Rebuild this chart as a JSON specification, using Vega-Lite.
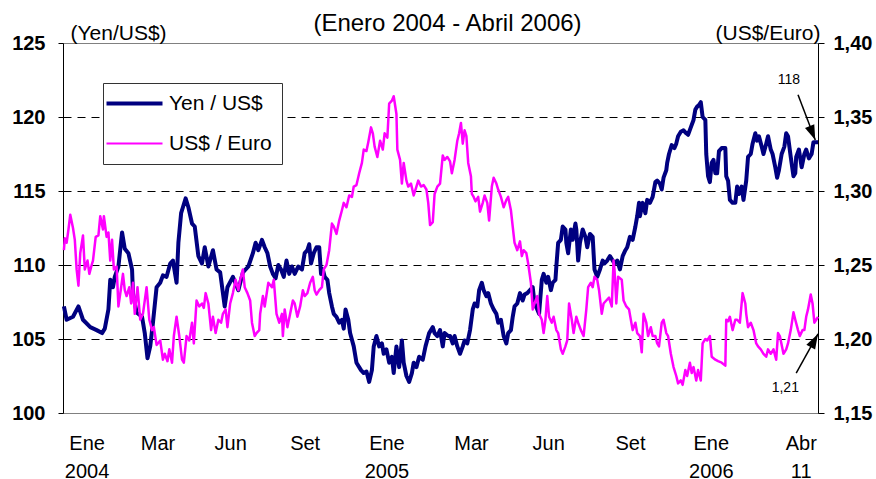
{
  "$schema": "https://vega.github.io/schema/vega-lite/v6.json",
  "width": 755,
  "height": 370,
  "autosize": {"type": "none"},
  "padding": {"left": 63, "top": 43, "right": 58, "bottom": 66},
  "background": "white",
  "config": {
    "font": "Liberation Sans",
    "view": {"stroke": "#808080", "strokeWidth": 1},
    "legend": {
      "symbolType": "M-1.7,0L3.9,0",
      "symbolSize": 400,
      "labelFontSize": 21,
      "labelColor": "black",
      "labelOffset": 35,
      "padding": 10,
      "rowPadding": 18,
      "fillColor": "white",
      "strokeColor": "#333333",
      "titleFontSize": 1
    }
  },
  "title": {
    "text": "(Enero 2004 - Abril 2006)",
    "fontSize": 24,
    "fontWeight": "normal",
    "color": "black",
    "anchor": "middle",
    "frame": "group",
    "dx": 7,
    "baseline": "alphabetic",
    "offset": -33
  },
  "data": {
    "values": [
      {"fecha":"2004-01-02","serie":"yen","valor":107.2},
      {"fecha":"2004-01-05","serie":"yen","valor":106.3},
      {"fecha":"2004-01-12","serie":"yen","valor":106.5},
      {"fecha":"2004-01-18","serie":"yen","valor":107.2},
      {"fecha":"2004-01-23","serie":"yen","valor":106.3},
      {"fecha":"2004-01-31","serie":"yen","valor":105.8},
      {"fecha":"2004-02-07","serie":"yen","valor":105.6},
      {"fecha":"2004-02-13","serie":"yen","valor":105.4},
      {"fecha":"2004-02-16","serie":"yen","valor":105.7},
      {"fecha":"2004-02-20","serie":"yen","valor":107.0},
      {"fecha":"2004-02-22","serie":"yen","valor":109.0},
      {"fecha":"2004-02-25","serie":"yen","valor":108.5},
      {"fecha":"2004-02-27","serie":"yen","valor":109.2},
      {"fecha":"2004-03-02","serie":"yen","valor":109.9},
      {"fecha":"2004-03-06","serie":"yen","valor":112.2},
      {"fecha":"2004-03-09","serie":"yen","valor":111.1},
      {"fecha":"2004-03-13","serie":"yen","valor":110.8},
      {"fecha":"2004-03-17","serie":"yen","valor":109.7},
      {"fecha":"2004-03-18","serie":"yen","valor":108.1},
      {"fecha":"2004-03-22","serie":"yen","valor":106.8},
      {"fecha":"2004-03-28","serie":"yen","valor":106.5},
      {"fecha":"2004-03-31","serie":"yen","valor":105.4},
      {"fecha":"2004-04-03","serie":"yen","valor":103.7},
      {"fecha":"2004-04-06","serie":"yen","valor":104.5},
      {"fecha":"2004-04-09","serie":"yen","valor":106.1},
      {"fecha":"2004-04-13","serie":"yen","valor":108.5},
      {"fecha":"2004-04-17","serie":"yen","valor":108.8},
      {"fecha":"2004-04-20","serie":"yen","valor":109.3},
      {"fecha":"2004-04-24","serie":"yen","valor":109.2},
      {"fecha":"2004-04-28","serie":"yen","valor":110.1},
      {"fecha":"2004-05-01","serie":"yen","valor":110.3},
      {"fecha":"2004-05-05","serie":"yen","valor":108.8},
      {"fecha":"2004-05-07","serie":"yen","valor":111.5},
      {"fecha":"2004-05-10","serie":"yen","valor":113.5},
      {"fecha":"2004-05-12","serie":"yen","valor":113.9},
      {"fecha":"2004-05-15","serie":"yen","valor":114.5},
      {"fecha":"2004-05-18","serie":"yen","valor":113.9},
      {"fecha":"2004-05-22","serie":"yen","valor":112.8},
      {"fecha":"2004-05-25","serie":"yen","valor":112.6},
      {"fecha":"2004-05-29","serie":"yen","valor":110.6},
      {"fecha":"2004-06-02","serie":"yen","valor":110.1},
      {"fecha":"2004-06-05","serie":"yen","valor":111.2},
      {"fecha":"2004-06-09","serie":"yen","valor":109.9},
      {"fecha":"2004-06-14","serie":"yen","valor":111.0},
      {"fecha":"2004-06-18","serie":"yen","valor":109.7},
      {"fecha":"2004-06-22","serie":"yen","valor":109.5},
      {"fecha":"2004-06-27","serie":"yen","valor":107.2},
      {"fecha":"2004-06-30","serie":"yen","valor":108.5},
      {"fecha":"2004-07-06","serie":"yen","valor":109.2},
      {"fecha":"2004-07-12","serie":"yen","valor":108.3},
      {"fecha":"2004-07-17","serie":"yen","valor":109.5},
      {"fecha":"2004-07-23","serie":"yen","valor":109.9},
      {"fecha":"2004-07-28","serie":"yen","valor":110.8},
      {"fecha":"2004-07-31","serie":"yen","valor":111.5},
      {"fecha":"2004-08-03","serie":"yen","valor":111.0},
      {"fecha":"2004-08-07","serie":"yen","valor":111.7},
      {"fecha":"2004-08-10","serie":"yen","valor":111.2},
      {"fecha":"2004-08-13","serie":"yen","valor":110.8},
      {"fecha":"2004-08-16","serie":"yen","valor":109.9},
      {"fecha":"2004-08-19","serie":"yen","valor":109.4},
      {"fecha":"2004-08-22","serie":"yen","valor":109.1},
      {"fecha":"2004-08-25","serie":"yen","valor":110.0},
      {"fecha":"2004-08-28","serie":"yen","valor":109.7},
      {"fecha":"2004-08-31","serie":"yen","valor":109.2},
      {"fecha":"2004-09-03","serie":"yen","valor":110.3},
      {"fecha":"2004-09-06","serie":"yen","valor":109.4},
      {"fecha":"2004-09-09","serie":"yen","valor":109.9},
      {"fecha":"2004-09-12","serie":"yen","valor":109.4},
      {"fecha":"2004-09-16","serie":"yen","valor":109.9},
      {"fecha":"2004-09-20","serie":"yen","valor":109.7},
      {"fecha":"2004-09-23","serie":"yen","valor":110.8},
      {"fecha":"2004-09-26","serie":"yen","valor":111.0},
      {"fecha":"2004-09-28","serie":"yen","valor":111.4},
      {"fecha":"2004-09-30","serie":"yen","valor":110.1},
      {"fecha":"2004-10-03","serie":"yen","valor":110.8},
      {"fecha":"2004-10-06","serie":"yen","valor":111.2},
      {"fecha":"2004-10-09","serie":"yen","valor":111.2},
      {"fecha":"2004-10-11","serie":"yen","valor":109.4},
      {"fecha":"2004-10-13","serie":"yen","valor":109.7},
      {"fecha":"2004-10-15","serie":"yen","valor":109.2},
      {"fecha":"2004-10-18","serie":"yen","valor":109.0},
      {"fecha":"2004-10-20","serie":"yen","valor":108.1},
      {"fecha":"2004-10-23","serie":"yen","valor":107.2},
      {"fecha":"2004-10-25","serie":"yen","valor":106.7},
      {"fecha":"2004-10-28","serie":"yen","valor":106.5},
      {"fecha":"2004-10-31","serie":"yen","valor":106.1},
      {"fecha":"2004-11-03","serie":"yen","valor":106.3},
      {"fecha":"2004-11-05","serie":"yen","valor":105.7},
      {"fecha":"2004-11-07","serie":"yen","valor":107.0},
      {"fecha":"2004-11-10","serie":"yen","valor":106.3},
      {"fecha":"2004-11-12","serie":"yen","valor":105.4},
      {"fecha":"2004-11-16","serie":"yen","valor":104.5},
      {"fecha":"2004-11-19","serie":"yen","valor":103.4},
      {"fecha":"2004-11-24","serie":"yen","valor":102.9},
      {"fecha":"2004-11-27","serie":"yen","valor":102.7},
      {"fecha":"2004-11-30","serie":"yen","valor":102.8},
      {"fecha":"2004-12-03","serie":"yen","valor":102.1},
      {"fecha":"2004-12-06","serie":"yen","valor":102.9},
      {"fecha":"2004-12-08","serie":"yen","valor":104.5},
      {"fecha":"2004-12-11","serie":"yen","valor":105.2},
      {"fecha":"2004-12-14","serie":"yen","valor":104.5},
      {"fecha":"2004-12-17","serie":"yen","valor":104.7},
      {"fecha":"2004-12-19","serie":"yen","valor":104.0},
      {"fecha":"2004-12-22","serie":"yen","valor":104.3},
      {"fecha":"2004-12-25","serie":"yen","valor":103.4},
      {"fecha":"2004-12-28","serie":"yen","valor":103.8},
      {"fecha":"2004-12-30","serie":"yen","valor":102.7},
      {"fecha":"2005-01-02","serie":"yen","valor":104.5},
      {"fecha":"2005-01-05","serie":"yen","valor":103.1},
      {"fecha":"2005-01-08","serie":"yen","valor":104.9},
      {"fecha":"2005-01-10","serie":"yen","valor":103.4},
      {"fecha":"2005-01-13","serie":"yen","valor":102.5},
      {"fecha":"2005-01-16","serie":"yen","valor":102.1},
      {"fecha":"2005-01-19","serie":"yen","valor":102.7},
      {"fecha":"2005-01-21","serie":"yen","valor":103.4},
      {"fecha":"2005-01-24","serie":"yen","valor":103.1},
      {"fecha":"2005-01-27","serie":"yen","valor":103.8},
      {"fecha":"2005-01-31","serie":"yen","valor":103.6},
      {"fecha":"2005-02-03","serie":"yen","valor":104.5},
      {"fecha":"2005-02-07","serie":"yen","valor":105.4},
      {"fecha":"2005-02-11","serie":"yen","valor":105.8},
      {"fecha":"2005-02-13","serie":"yen","valor":105.4},
      {"fecha":"2005-02-16","serie":"yen","valor":105.2},
      {"fecha":"2005-02-19","serie":"yen","valor":105.6},
      {"fecha":"2005-02-22","serie":"yen","valor":104.5},
      {"fecha":"2005-02-24","serie":"yen","valor":105.4},
      {"fecha":"2005-02-28","serie":"yen","valor":105.2},
      {"fecha":"2005-03-02","serie":"yen","valor":105.2},
      {"fecha":"2005-03-05","serie":"yen","valor":104.7},
      {"fecha":"2005-03-07","serie":"yen","valor":105.2},
      {"fecha":"2005-03-10","serie":"yen","valor":104.5},
      {"fecha":"2005-03-13","serie":"yen","valor":104.0},
      {"fecha":"2005-03-16","serie":"yen","valor":104.5},
      {"fecha":"2005-03-18","serie":"yen","valor":104.9},
      {"fecha":"2005-03-21","serie":"yen","valor":104.7},
      {"fecha":"2005-03-24","serie":"yen","valor":105.6},
      {"fecha":"2005-03-27","serie":"yen","valor":107.0},
      {"fecha":"2005-03-29","serie":"yen","valor":107.4},
      {"fecha":"2005-04-01","serie":"yen","valor":107.2},
      {"fecha":"2005-04-03","serie":"yen","valor":108.3},
      {"fecha":"2005-04-06","serie":"yen","valor":108.8},
      {"fecha":"2005-04-08","serie":"yen","valor":108.3},
      {"fecha":"2005-04-11","serie":"yen","valor":107.9},
      {"fecha":"2005-04-13","serie":"yen","valor":108.1},
      {"fecha":"2005-04-16","serie":"yen","valor":107.4},
      {"fecha":"2005-04-19","serie":"yen","valor":107.0},
      {"fecha":"2005-04-22","serie":"yen","valor":106.7},
      {"fecha":"2005-04-24","serie":"yen","valor":106.1},
      {"fecha":"2005-04-27","serie":"yen","valor":106.3},
      {"fecha":"2005-04-30","serie":"yen","valor":105.2},
      {"fecha":"2005-05-03","serie":"yen","valor":104.7},
      {"fecha":"2005-05-05","serie":"yen","valor":105.4},
      {"fecha":"2005-05-08","serie":"yen","valor":105.6},
      {"fecha":"2005-05-10","serie":"yen","valor":106.5},
      {"fecha":"2005-05-12","serie":"yen","valor":107.2},
      {"fecha":"2005-05-15","serie":"yen","valor":107.4},
      {"fecha":"2005-05-18","serie":"yen","valor":108.1},
      {"fecha":"2005-05-21","serie":"yen","valor":107.6},
      {"fecha":"2005-05-23","serie":"yen","valor":108.0},
      {"fecha":"2005-05-26","serie":"yen","valor":108.1},
      {"fecha":"2005-05-29","serie":"yen","valor":108.3},
      {"fecha":"2005-06-01","serie":"yen","valor":108.5},
      {"fecha":"2005-06-03","serie":"yen","valor":107.4},
      {"fecha":"2005-06-06","serie":"yen","valor":107.0},
      {"fecha":"2005-06-08","serie":"yen","valor":106.7},
      {"fecha":"2005-06-11","serie":"yen","valor":109.0},
      {"fecha":"2005-06-13","serie":"yen","valor":109.4},
      {"fecha":"2005-06-16","serie":"yen","valor":108.8},
      {"fecha":"2005-06-18","serie":"yen","valor":109.2},
      {"fecha":"2005-06-21","serie":"yen","valor":108.3},
      {"fecha":"2005-06-23","serie":"yen","valor":108.8},
      {"fecha":"2005-06-26","serie":"yen","valor":109.0},
      {"fecha":"2005-06-27","serie":"yen","valor":109.9},
      {"fecha":"2005-06-29","serie":"yen","valor":111.5},
      {"fecha":"2005-07-02","serie":"yen","valor":111.7},
      {"fecha":"2005-07-04","serie":"yen","valor":112.6},
      {"fecha":"2005-07-07","serie":"yen","valor":112.4},
      {"fecha":"2005-07-08","serie":"yen","valor":111.5},
      {"fecha":"2005-07-10","serie":"yen","valor":110.8},
      {"fecha":"2005-07-13","serie":"yen","valor":112.4},
      {"fecha":"2005-07-15","serie":"yen","valor":111.7},
      {"fecha":"2005-07-18","serie":"yen","valor":112.8},
      {"fecha":"2005-07-19","serie":"yen","valor":112.4},
      {"fecha":"2005-07-21","serie":"yen","valor":110.3},
      {"fecha":"2005-07-23","serie":"yen","valor":111.5},
      {"fecha":"2005-07-26","serie":"yen","valor":112.4},
      {"fecha":"2005-07-29","serie":"yen","valor":111.9},
      {"fecha":"2005-07-31","serie":"yen","valor":111.2},
      {"fecha":"2005-08-03","serie":"yen","valor":112.1},
      {"fecha":"2005-08-06","serie":"yen","valor":111.9},
      {"fecha":"2005-08-08","serie":"yen","valor":109.7},
      {"fecha":"2005-08-11","serie":"yen","valor":109.2},
      {"fecha":"2005-08-14","serie":"yen","valor":109.7},
      {"fecha":"2005-08-17","serie":"yen","valor":110.3},
      {"fecha":"2005-08-19","serie":"yen","valor":110.1},
      {"fecha":"2005-08-22","serie":"yen","valor":110.3},
      {"fecha":"2005-08-25","serie":"yen","valor":110.6},
      {"fecha":"2005-08-28","serie":"yen","valor":110.3},
      {"fecha":"2005-08-30","serie":"yen","valor":110.1},
      {"fecha":"2005-09-02","serie":"yen","valor":110.3},
      {"fecha":"2005-09-05","serie":"yen","valor":109.7},
      {"fecha":"2005-09-08","serie":"yen","valor":110.6},
      {"fecha":"2005-09-11","serie":"yen","valor":111.0},
      {"fecha":"2005-09-13","serie":"yen","valor":111.2},
      {"fecha":"2005-09-16","serie":"yen","valor":111.9},
      {"fecha":"2005-09-19","serie":"yen","valor":111.7},
      {"fecha":"2005-09-22","serie":"yen","valor":112.6},
      {"fecha":"2005-09-24","serie":"yen","valor":113.3},
      {"fecha":"2005-09-26","serie":"yen","valor":114.2},
      {"fecha":"2005-09-27","serie":"yen","valor":113.3},
      {"fecha":"2005-09-30","serie":"yen","valor":114.2},
      {"fecha":"2005-10-03","serie":"yen","valor":113.5},
      {"fecha":"2005-10-05","serie":"yen","valor":114.4},
      {"fecha":"2005-10-08","serie":"yen","valor":114.2},
      {"fecha":"2005-10-11","serie":"yen","valor":114.6},
      {"fecha":"2005-10-14","serie":"yen","valor":115.6},
      {"fecha":"2005-10-16","serie":"yen","valor":115.7},
      {"fecha":"2005-10-19","serie":"yen","valor":115.5},
      {"fecha":"2005-10-21","serie":"yen","valor":115.1},
      {"fecha":"2005-10-23","serie":"yen","valor":115.9},
      {"fecha":"2005-10-26","serie":"yen","valor":116.4},
      {"fecha":"2005-10-27","serie":"yen","valor":116.9},
      {"fecha":"2005-10-29","serie":"yen","valor":117.5},
      {"fecha":"2005-11-01","serie":"yen","valor":118.1},
      {"fecha":"2005-11-04","serie":"yen","valor":117.9},
      {"fecha":"2005-11-06","serie":"yen","valor":118.2},
      {"fecha":"2005-11-08","serie":"yen","valor":118.7},
      {"fecha":"2005-11-11","serie":"yen","valor":119.0},
      {"fecha":"2005-11-14","serie":"yen","valor":119.1},
      {"fecha":"2005-11-17","serie":"yen","valor":118.9},
      {"fecha":"2005-11-19","serie":"yen","valor":118.8},
      {"fecha":"2005-11-22","serie":"yen","valor":119.3},
      {"fecha":"2005-11-25","serie":"yen","valor":119.8},
      {"fecha":"2005-11-27","serie":"yen","valor":120.5},
      {"fecha":"2005-11-29","serie":"yen","valor":120.7},
      {"fecha":"2005-12-01","serie":"yen","valor":120.8},
      {"fecha":"2005-12-03","serie":"yen","valor":121.0},
      {"fecha":"2005-12-05","serie":"yen","valor":120.0},
      {"fecha":"2005-12-08","serie":"yen","valor":119.8},
      {"fecha":"2005-12-09","serie":"yen","valor":117.5},
      {"fecha":"2005-12-11","serie":"yen","valor":116.0},
      {"fecha":"2005-12-13","serie":"yen","valor":115.6},
      {"fecha":"2005-12-15","serie":"yen","valor":116.9},
      {"fecha":"2005-12-17","serie":"yen","valor":117.1},
      {"fecha":"2005-12-19","serie":"yen","valor":116.2},
      {"fecha":"2005-12-21","serie":"yen","valor":116.2},
      {"fecha":"2005-12-23","serie":"yen","valor":117.7},
      {"fecha":"2005-12-26","serie":"yen","valor":117.9},
      {"fecha":"2005-12-30","serie":"yen","valor":117.9},
      {"fecha":"2005-12-31","serie":"yen","valor":116.0},
      {"fecha":"2006-01-02","serie":"yen","valor":115.7},
      {"fecha":"2006-01-04","serie":"yen","valor":114.4},
      {"fecha":"2006-01-07","serie":"yen","valor":114.2},
      {"fecha":"2006-01-10","serie":"yen","valor":114.2},
      {"fecha":"2006-01-12","serie":"yen","valor":115.3},
      {"fecha":"2006-01-14","serie":"yen","valor":114.8},
      {"fecha":"2006-01-17","serie":"yen","valor":115.3},
      {"fecha":"2006-01-19","serie":"yen","valor":114.4},
      {"fecha":"2006-01-22","serie":"yen","valor":115.7},
      {"fecha":"2006-01-24","serie":"yen","valor":117.3},
      {"fecha":"2006-01-27","serie":"yen","valor":117.5},
      {"fecha":"2006-01-29","serie":"yen","valor":118.2},
      {"fecha":"2006-02-01","serie":"yen","valor":118.9},
      {"fecha":"2006-02-03","serie":"yen","valor":118.4},
      {"fecha":"2006-02-05","serie":"yen","valor":118.7},
      {"fecha":"2006-02-08","serie":"yen","valor":118.0},
      {"fecha":"2006-02-10","serie":"yen","valor":117.5},
      {"fecha":"2006-02-13","serie":"yen","valor":118.2},
      {"fecha":"2006-02-15","serie":"yen","valor":118.7},
      {"fecha":"2006-02-18","serie":"yen","valor":117.8},
      {"fecha":"2006-02-20","serie":"yen","valor":117.5},
      {"fecha":"2006-02-23","serie":"yen","valor":116.6},
      {"fecha":"2006-02-25","serie":"yen","valor":115.9},
      {"fecha":"2006-02-27","serie":"yen","valor":116.4},
      {"fecha":"2006-03-02","serie":"yen","valor":117.5},
      {"fecha":"2006-03-05","serie":"yen","valor":118.0},
      {"fecha":"2006-03-07","serie":"yen","valor":118.9},
      {"fecha":"2006-03-09","serie":"yen","valor":118.7},
      {"fecha":"2006-03-12","serie":"yen","valor":117.3},
      {"fecha":"2006-03-15","serie":"yen","valor":116.0},
      {"fecha":"2006-03-17","serie":"yen","valor":116.2},
      {"fecha":"2006-03-18","serie":"yen","valor":117.3},
      {"fecha":"2006-03-21","serie":"yen","valor":117.8},
      {"fecha":"2006-03-24","serie":"yen","valor":116.6},
      {"fecha":"2006-03-27","serie":"yen","valor":117.5},
      {"fecha":"2006-03-29","serie":"yen","valor":117.8},
      {"fecha":"2006-04-01","serie":"yen","valor":117.2},
      {"fecha":"2006-04-04","serie":"yen","valor":117.5},
      {"fecha":"2006-04-06","serie":"yen","valor":118.3},
      {"fecha":"2006-04-09","serie":"yen","valor":118.3},
      {"fecha":"2006-04-11","serie":"yen","valor":118.3},
      {"fecha":"2004-01-02","serie":"eur","valor":1.260},
      {"fecha":"2004-01-03","serie":"eur","valor":1.268},
      {"fecha":"2004-01-05","serie":"eur","valor":1.265},
      {"fecha":"2004-01-07","serie":"eur","valor":1.274},
      {"fecha":"2004-01-09","serie":"eur","valor":1.284},
      {"fecha":"2004-01-12","serie":"eur","valor":1.275},
      {"fecha":"2004-01-14","serie":"eur","valor":1.267},
      {"fecha":"2004-01-16","serie":"eur","valor":1.247},
      {"fecha":"2004-01-18","serie":"eur","valor":1.236},
      {"fecha":"2004-01-20","serie":"eur","valor":1.258},
      {"fecha":"2004-01-23","serie":"eur","valor":1.270},
      {"fecha":"2004-01-25","serie":"eur","valor":1.247},
      {"fecha":"2004-01-28","serie":"eur","valor":1.253},
      {"fecha":"2004-01-30","serie":"eur","valor":1.244},
      {"fecha":"2004-02-02","serie":"eur","valor":1.251},
      {"fecha":"2004-02-03","serie":"eur","valor":1.253},
      {"fecha":"2004-02-06","serie":"eur","valor":1.269},
      {"fecha":"2004-02-09","serie":"eur","valor":1.270},
      {"fecha":"2004-02-11","serie":"eur","valor":1.283},
      {"fecha":"2004-02-14","serie":"eur","valor":1.274},
      {"fecha":"2004-02-15","serie":"eur","valor":1.283},
      {"fecha":"2004-02-18","serie":"eur","valor":1.269},
      {"fecha":"2004-02-20","serie":"eur","valor":1.272},
      {"fecha":"2004-02-22","serie":"eur","valor":1.253},
      {"fecha":"2004-02-24","serie":"eur","valor":1.267},
      {"fecha":"2004-02-26","serie":"eur","valor":1.247},
      {"fecha":"2004-02-29","serie":"eur","valor":1.249},
      {"fecha":"2004-03-02","serie":"eur","valor":1.222},
      {"fecha":"2004-03-05","serie":"eur","valor":1.235},
      {"fecha":"2004-03-07","serie":"eur","valor":1.244},
      {"fecha":"2004-03-09","serie":"eur","valor":1.233},
      {"fecha":"2004-03-11","serie":"eur","valor":1.229},
      {"fecha":"2004-03-14","serie":"eur","valor":1.235},
      {"fecha":"2004-03-16","serie":"eur","valor":1.224},
      {"fecha":"2004-03-18","serie":"eur","valor":1.238},
      {"fecha":"2004-03-20","serie":"eur","valor":1.217},
      {"fecha":"2004-03-23","serie":"eur","valor":1.235},
      {"fecha":"2004-03-26","serie":"eur","valor":1.213},
      {"fecha":"2004-03-29","serie":"eur","valor":1.217},
      {"fecha":"2004-04-02","serie":"eur","valor":1.235},
      {"fecha":"2004-04-05","serie":"eur","valor":1.213},
      {"fecha":"2004-04-08","serie":"eur","valor":1.206},
      {"fecha":"2004-04-10","serie":"eur","valor":1.208},
      {"fecha":"2004-04-13","serie":"eur","valor":1.196},
      {"fecha":"2004-04-17","serie":"eur","valor":1.199},
      {"fecha":"2004-04-20","serie":"eur","valor":1.186},
      {"fecha":"2004-04-22","serie":"eur","valor":1.190},
      {"fecha":"2004-04-25","serie":"eur","valor":1.185},
      {"fecha":"2004-04-27","serie":"eur","valor":1.193},
      {"fecha":"2004-04-30","serie":"eur","valor":1.184},
      {"fecha":"2004-05-02","serie":"eur","valor":1.202},
      {"fecha":"2004-05-05","serie":"eur","valor":1.215},
      {"fecha":"2004-05-08","serie":"eur","valor":1.202},
      {"fecha":"2004-05-11","serie":"eur","valor":1.186},
      {"fecha":"2004-05-13","serie":"eur","valor":1.184},
      {"fecha":"2004-05-16","serie":"eur","valor":1.202},
      {"fecha":"2004-05-19","serie":"eur","valor":1.199},
      {"fecha":"2004-05-22","serie":"eur","valor":1.211},
      {"fecha":"2004-05-24","serie":"eur","valor":1.197},
      {"fecha":"2004-05-27","serie":"eur","valor":1.226},
      {"fecha":"2004-05-30","serie":"eur","valor":1.222},
      {"fecha":"2004-06-02","serie":"eur","valor":1.224},
      {"fecha":"2004-06-04","serie":"eur","valor":1.221},
      {"fecha":"2004-06-06","serie":"eur","valor":1.231},
      {"fecha":"2004-06-09","serie":"eur","valor":1.224},
      {"fecha":"2004-06-12","serie":"eur","valor":1.206},
      {"fecha":"2004-06-14","serie":"eur","valor":1.215},
      {"fecha":"2004-06-17","serie":"eur","valor":1.204},
      {"fecha":"2004-06-20","serie":"eur","valor":1.213},
      {"fecha":"2004-06-23","serie":"eur","valor":1.211},
      {"fecha":"2004-06-25","serie":"eur","valor":1.217},
      {"fecha":"2004-06-28","serie":"eur","valor":1.220},
      {"fecha":"2004-06-30","serie":"eur","valor":1.208},
      {"fecha":"2004-07-03","serie":"eur","valor":1.224},
      {"fecha":"2004-07-06","serie":"eur","valor":1.231},
      {"fecha":"2004-07-09","serie":"eur","valor":1.240},
      {"fecha":"2004-07-12","serie":"eur","valor":1.233},
      {"fecha":"2004-07-14","serie":"eur","valor":1.240},
      {"fecha":"2004-07-17","serie":"eur","valor":1.247},
      {"fecha":"2004-07-19","serie":"eur","valor":1.235},
      {"fecha":"2004-07-22","serie":"eur","valor":1.231},
      {"fecha":"2004-07-25","serie":"eur","valor":1.226},
      {"fecha":"2004-07-27","serie":"eur","valor":1.211},
      {"fecha":"2004-07-30","serie":"eur","valor":1.202},
      {"fecha":"2004-08-01","serie":"eur","valor":1.204},
      {"fecha":"2004-08-04","serie":"eur","valor":1.206},
      {"fecha":"2004-08-05","serie":"eur","valor":1.217},
      {"fecha":"2004-08-08","serie":"eur","valor":1.229},
      {"fecha":"2004-08-10","serie":"eur","valor":1.222},
      {"fecha":"2004-08-14","serie":"eur","valor":1.238},
      {"fecha":"2004-08-18","serie":"eur","valor":1.235},
      {"fecha":"2004-08-20","serie":"eur","valor":1.240},
      {"fecha":"2004-08-23","serie":"eur","valor":1.217},
      {"fecha":"2004-08-26","serie":"eur","valor":1.211},
      {"fecha":"2004-08-29","serie":"eur","valor":1.217},
      {"fecha":"2004-08-30","serie":"eur","valor":1.202},
      {"fecha":"2004-09-01","serie":"eur","valor":1.220},
      {"fecha":"2004-09-04","serie":"eur","valor":1.208},
      {"fecha":"2004-09-07","serie":"eur","valor":1.217},
      {"fecha":"2004-09-10","serie":"eur","valor":1.226},
      {"fecha":"2004-09-12","serie":"eur","valor":1.224},
      {"fecha":"2004-09-15","serie":"eur","valor":1.215},
      {"fecha":"2004-09-18","serie":"eur","valor":1.222},
      {"fecha":"2004-09-21","serie":"eur","valor":1.233},
      {"fecha":"2004-09-23","serie":"eur","valor":1.229},
      {"fecha":"2004-09-26","serie":"eur","valor":1.231},
      {"fecha":"2004-09-29","serie":"eur","valor":1.238},
      {"fecha":"2004-10-02","serie":"eur","valor":1.242},
      {"fecha":"2004-10-04","serie":"eur","valor":1.233},
      {"fecha":"2004-10-06","serie":"eur","valor":1.230},
      {"fecha":"2004-10-09","serie":"eur","valor":1.233},
      {"fecha":"2004-10-12","serie":"eur","valor":1.235},
      {"fecha":"2004-10-14","serie":"eur","valor":1.247},
      {"fecha":"2004-10-17","serie":"eur","valor":1.250},
      {"fecha":"2004-10-20","serie":"eur","valor":1.260},
      {"fecha":"2004-10-23","serie":"eur","valor":1.278},
      {"fecha":"2004-10-25","serie":"eur","valor":1.276},
      {"fecha":"2004-10-28","serie":"eur","valor":1.271},
      {"fecha":"2004-10-31","serie":"eur","valor":1.280},
      {"fecha":"2004-11-03","serie":"eur","valor":1.287},
      {"fecha":"2004-11-05","serie":"eur","valor":1.292},
      {"fecha":"2004-11-08","serie":"eur","valor":1.289},
      {"fecha":"2004-11-11","serie":"eur","valor":1.297},
      {"fecha":"2004-11-14","serie":"eur","valor":1.296},
      {"fecha":"2004-11-16","serie":"eur","valor":1.303},
      {"fecha":"2004-11-19","serie":"eur","valor":1.304},
      {"fecha":"2004-11-22","serie":"eur","valor":1.312},
      {"fecha":"2004-11-25","serie":"eur","valor":1.319},
      {"fecha":"2004-11-27","serie":"eur","valor":1.328},
      {"fecha":"2004-11-30","serie":"eur","valor":1.327},
      {"fecha":"2004-12-02","serie":"eur","valor":1.333},
      {"fecha":"2004-12-05","serie":"eur","valor":1.343},
      {"fecha":"2004-12-07","serie":"eur","valor":1.339},
      {"fecha":"2004-12-09","serie":"eur","valor":1.330},
      {"fecha":"2004-12-12","serie":"eur","valor":1.323},
      {"fecha":"2004-12-15","serie":"eur","valor":1.334},
      {"fecha":"2004-12-18","serie":"eur","valor":1.328},
      {"fecha":"2004-12-20","serie":"eur","valor":1.339},
      {"fecha":"2004-12-23","serie":"eur","valor":1.336},
      {"fecha":"2004-12-25","serie":"eur","valor":1.359},
      {"fecha":"2004-12-28","serie":"eur","valor":1.361},
      {"fecha":"2004-12-30","serie":"eur","valor":1.364},
      {"fecha":"2005-01-02","serie":"eur","valor":1.352},
      {"fecha":"2005-01-03","serie":"eur","valor":1.328},
      {"fecha":"2005-01-06","serie":"eur","valor":1.321},
      {"fecha":"2005-01-08","serie":"eur","valor":1.305},
      {"fecha":"2005-01-10","serie":"eur","valor":1.319},
      {"fecha":"2005-01-13","serie":"eur","valor":1.307},
      {"fecha":"2005-01-15","serie":"eur","valor":1.303},
      {"fecha":"2005-01-18","serie":"eur","valor":1.305},
      {"fecha":"2005-01-21","serie":"eur","valor":1.297},
      {"fecha":"2005-01-24","serie":"eur","valor":1.303},
      {"fecha":"2005-01-26","serie":"eur","valor":1.307},
      {"fecha":"2005-01-29","serie":"eur","valor":1.303},
      {"fecha":"2005-02-01","serie":"eur","valor":1.304},
      {"fecha":"2005-02-04","serie":"eur","valor":1.301},
      {"fecha":"2005-02-06","serie":"eur","valor":1.292},
      {"fecha":"2005-02-08","serie":"eur","valor":1.277},
      {"fecha":"2005-02-11","serie":"eur","valor":1.279},
      {"fecha":"2005-02-13","serie":"eur","valor":1.298},
      {"fecha":"2005-02-16","serie":"eur","valor":1.303},
      {"fecha":"2005-02-19","serie":"eur","valor":1.305},
      {"fecha":"2005-02-22","serie":"eur","valor":1.324},
      {"fecha":"2005-02-24","serie":"eur","valor":1.321},
      {"fecha":"2005-02-27","serie":"eur","valor":1.323},
      {"fecha":"2005-03-02","serie":"eur","valor":1.320},
      {"fecha":"2005-03-04","serie":"eur","valor":1.312},
      {"fecha":"2005-03-07","serie":"eur","valor":1.321},
      {"fecha":"2005-03-10","serie":"eur","valor":1.334},
      {"fecha":"2005-03-12","serie":"eur","valor":1.339},
      {"fecha":"2005-03-14","serie":"eur","valor":1.346},
      {"fecha":"2005-03-16","serie":"eur","valor":1.332},
      {"fecha":"2005-03-18","serie":"eur","valor":1.341},
      {"fecha":"2005-03-20","serie":"eur","valor":1.337},
      {"fecha":"2005-03-22","serie":"eur","valor":1.319},
      {"fecha":"2005-03-25","serie":"eur","valor":1.310},
      {"fecha":"2005-03-26","serie":"eur","valor":1.298},
      {"fecha":"2005-03-28","serie":"eur","valor":1.296},
      {"fecha":"2005-03-30","serie":"eur","valor":1.293},
      {"fecha":"2005-04-02","serie":"eur","valor":1.296},
      {"fecha":"2005-04-04","serie":"eur","valor":1.286},
      {"fecha":"2005-04-07","serie":"eur","valor":1.292},
      {"fecha":"2005-04-09","serie":"eur","valor":1.297},
      {"fecha":"2005-04-12","serie":"eur","valor":1.292},
      {"fecha":"2005-04-14","serie":"eur","valor":1.280},
      {"fecha":"2005-04-17","serie":"eur","valor":1.303},
      {"fecha":"2005-04-19","serie":"eur","valor":1.309},
      {"fecha":"2005-04-22","serie":"eur","valor":1.305},
      {"fecha":"2005-04-24","serie":"eur","valor":1.301},
      {"fecha":"2005-04-27","serie":"eur","valor":1.296},
      {"fecha":"2005-04-30","serie":"eur","valor":1.289},
      {"fecha":"2005-05-03","serie":"eur","valor":1.294},
      {"fecha":"2005-05-05","serie":"eur","valor":1.296},
      {"fecha":"2005-05-08","serie":"eur","valor":1.287},
      {"fecha":"2005-05-10","serie":"eur","valor":1.276},
      {"fecha":"2005-05-12","serie":"eur","valor":1.265},
      {"fecha":"2005-05-15","serie":"eur","valor":1.260},
      {"fecha":"2005-05-18","serie":"eur","valor":1.266},
      {"fecha":"2005-05-20","serie":"eur","valor":1.256},
      {"fecha":"2005-05-22","serie":"eur","valor":1.260},
      {"fecha":"2005-05-25","serie":"eur","valor":1.258},
      {"fecha":"2005-05-27","serie":"eur","valor":1.251},
      {"fecha":"2005-05-30","serie":"eur","valor":1.238},
      {"fecha":"2005-06-01","serie":"eur","valor":1.220},
      {"fecha":"2005-06-03","serie":"eur","valor":1.224},
      {"fecha":"2005-06-06","serie":"eur","valor":1.229},
      {"fecha":"2005-06-08","serie":"eur","valor":1.217},
      {"fecha":"2005-06-11","serie":"eur","valor":1.213},
      {"fecha":"2005-06-13","serie":"eur","valor":1.204},
      {"fecha":"2005-06-15","serie":"eur","valor":1.213},
      {"fecha":"2005-06-17","serie":"eur","valor":1.229},
      {"fecha":"2005-06-19","serie":"eur","valor":1.215},
      {"fecha":"2005-06-22","serie":"eur","valor":1.211},
      {"fecha":"2005-06-24","serie":"eur","valor":1.215},
      {"fecha":"2005-06-27","serie":"eur","valor":1.206},
      {"fecha":"2005-06-29","serie":"eur","valor":1.204},
      {"fecha":"2005-07-02","serie":"eur","valor":1.193},
      {"fecha":"2005-07-04","serie":"eur","valor":1.190},
      {"fecha":"2005-07-07","serie":"eur","valor":1.195},
      {"fecha":"2005-07-09","serie":"eur","valor":1.199},
      {"fecha":"2005-07-11","serie":"eur","valor":1.224},
      {"fecha":"2005-07-14","serie":"eur","valor":1.213},
      {"fecha":"2005-07-16","serie":"eur","valor":1.204},
      {"fecha":"2005-07-19","serie":"eur","valor":1.215},
      {"fecha":"2005-07-21","serie":"eur","valor":1.211},
      {"fecha":"2005-07-24","serie":"eur","valor":1.206},
      {"fecha":"2005-07-27","serie":"eur","valor":1.202},
      {"fecha":"2005-07-30","serie":"eur","valor":1.220},
      {"fecha":"2005-08-01","serie":"eur","valor":1.235},
      {"fecha":"2005-08-04","serie":"eur","valor":1.238},
      {"fecha":"2005-08-06","serie":"eur","valor":1.235},
      {"fecha":"2005-08-08","serie":"eur","valor":1.242},
      {"fecha":"2005-08-11","serie":"eur","valor":1.240},
      {"fecha":"2005-08-13","serie":"eur","valor":1.233},
      {"fecha":"2005-08-16","serie":"eur","valor":1.217},
      {"fecha":"2005-08-18","serie":"eur","valor":1.224},
      {"fecha":"2005-08-21","serie":"eur","valor":1.226},
      {"fecha":"2005-08-24","serie":"eur","valor":1.228},
      {"fecha":"2005-08-27","serie":"eur","valor":1.222},
      {"fecha":"2005-08-29","serie":"eur","valor":1.253},
      {"fecha":"2005-08-30","serie":"eur","valor":1.247},
      {"fecha":"2005-09-01","serie":"eur","valor":1.224},
      {"fecha":"2005-09-03","serie":"eur","valor":1.242},
      {"fecha":"2005-09-07","serie":"eur","valor":1.240},
      {"fecha":"2005-09-09","serie":"eur","valor":1.226},
      {"fecha":"2005-09-12","serie":"eur","valor":1.222},
      {"fecha":"2005-09-15","serie":"eur","valor":1.220},
      {"fecha":"2005-09-19","serie":"eur","valor":1.206},
      {"fecha":"2005-09-22","serie":"eur","valor":1.211},
      {"fecha":"2005-09-24","serie":"eur","valor":1.204},
      {"fecha":"2005-09-27","serie":"eur","valor":1.202},
      {"fecha":"2005-09-29","serie":"eur","valor":1.191},
      {"fecha":"2005-10-01","serie":"eur","valor":1.217},
      {"fecha":"2005-10-04","serie":"eur","valor":1.211},
      {"fecha":"2005-10-06","serie":"eur","valor":1.202},
      {"fecha":"2005-10-09","serie":"eur","valor":1.208},
      {"fecha":"2005-10-11","serie":"eur","valor":1.202},
      {"fecha":"2005-10-14","serie":"eur","valor":1.202},
      {"fecha":"2005-10-16","serie":"eur","valor":1.197},
      {"fecha":"2005-10-18","serie":"eur","valor":1.195},
      {"fecha":"2005-10-21","serie":"eur","valor":1.211},
      {"fecha":"2005-10-23","serie":"eur","valor":1.213},
      {"fecha":"2005-10-26","serie":"eur","valor":1.204},
      {"fecha":"2005-10-28","serie":"eur","valor":1.202},
      {"fecha":"2005-10-31","serie":"eur","valor":1.190},
      {"fecha":"2005-11-03","serie":"eur","valor":1.181},
      {"fecha":"2005-11-06","serie":"eur","valor":1.175},
      {"fecha":"2005-11-08","serie":"eur","valor":1.170},
      {"fecha":"2005-11-11","serie":"eur","valor":1.172},
      {"fecha":"2005-11-13","serie":"eur","valor":1.169},
      {"fecha":"2005-11-16","serie":"eur","valor":1.179},
      {"fecha":"2005-11-18","serie":"eur","valor":1.175},
      {"fecha":"2005-11-21","serie":"eur","valor":1.184},
      {"fecha":"2005-11-23","serie":"eur","valor":1.177},
      {"fecha":"2005-11-25","serie":"eur","valor":1.181},
      {"fecha":"2005-11-28","serie":"eur","valor":1.172},
      {"fecha":"2005-11-30","serie":"eur","valor":1.179},
      {"fecha":"2005-12-03","serie":"eur","valor":1.172},
      {"fecha":"2005-12-05","serie":"eur","valor":1.197},
      {"fecha":"2005-12-08","serie":"eur","valor":1.200},
      {"fecha":"2005-12-10","serie":"eur","valor":1.199},
      {"fecha":"2005-12-13","serie":"eur","valor":1.202},
      {"fecha":"2005-12-15","serie":"eur","valor":1.188},
      {"fecha":"2005-12-19","serie":"eur","valor":1.186},
      {"fecha":"2005-12-22","serie":"eur","valor":1.185},
      {"fecha":"2005-12-26","serie":"eur","valor":1.184},
      {"fecha":"2005-12-30","serie":"eur","valor":1.182},
      {"fecha":"2005-12-31","serie":"eur","valor":1.213},
      {"fecha":"2006-01-02","serie":"eur","valor":1.212},
      {"fecha":"2006-01-04","serie":"eur","valor":1.215},
      {"fecha":"2006-01-07","serie":"eur","valor":1.206},
      {"fecha":"2006-01-10","serie":"eur","valor":1.213},
      {"fecha":"2006-01-12","serie":"eur","valor":1.213},
      {"fecha":"2006-01-15","serie":"eur","valor":1.211},
      {"fecha":"2006-01-18","serie":"eur","valor":1.231},
      {"fecha":"2006-01-21","serie":"eur","valor":1.224},
      {"fecha":"2006-01-22","serie":"eur","valor":1.217},
      {"fecha":"2006-01-24","serie":"eur","valor":1.208},
      {"fecha":"2006-01-27","serie":"eur","valor":1.211},
      {"fecha":"2006-01-30","serie":"eur","valor":1.206},
      {"fecha":"2006-02-02","serie":"eur","valor":1.197},
      {"fecha":"2006-02-04","serie":"eur","valor":1.195},
      {"fecha":"2006-02-07","serie":"eur","valor":1.193},
      {"fecha":"2006-02-10","serie":"eur","valor":1.190},
      {"fecha":"2006-02-13","serie":"eur","valor":1.188},
      {"fecha":"2006-02-15","serie":"eur","valor":1.193},
      {"fecha":"2006-02-18","serie":"eur","valor":1.190},
      {"fecha":"2006-02-21","serie":"eur","valor":1.193},
      {"fecha":"2006-02-24","serie":"eur","valor":1.186},
      {"fecha":"2006-02-26","serie":"eur","valor":1.204},
      {"fecha":"2006-02-28","serie":"eur","valor":1.202},
      {"fecha":"2006-03-04","serie":"eur","valor":1.190},
      {"fecha":"2006-03-07","serie":"eur","valor":1.193},
      {"fecha":"2006-03-09","serie":"eur","valor":1.197},
      {"fecha":"2006-03-12","serie":"eur","valor":1.206},
      {"fecha":"2006-03-15","serie":"eur","valor":1.218},
      {"fecha":"2006-03-17","serie":"eur","valor":1.213},
      {"fecha":"2006-03-20","serie":"eur","valor":1.206},
      {"fecha":"2006-03-22","serie":"eur","valor":1.202},
      {"fecha":"2006-03-25","serie":"eur","valor":1.206},
      {"fecha":"2006-03-27","serie":"eur","valor":1.206},
      {"fecha":"2006-03-29","serie":"eur","valor":1.215},
      {"fecha":"2006-03-31","serie":"eur","valor":1.220},
      {"fecha":"2006-04-03","serie":"eur","valor":1.230},
      {"fecha":"2006-04-05","serie":"eur","valor":1.224},
      {"fecha":"2006-04-07","serie":"eur","valor":1.211},
      {"fecha":"2006-04-09","serie":"eur","valor":1.213},
      {"fecha":"2006-04-11","serie":"eur","valor":1.215}
    ]
  },
  "encoding": {
    "x": {
      "field": "fecha",
      "type": "temporal",
      "scale": {"domain": [{"year": 2004, "month": 1, "date": 1}, {"year": 2006, "month": 4, "date": 11}]},
      "axis": {
        "title": null,
        "values": [
          {"year": 2004, "month": 1, "date": 27},
          {"year": 2004, "month": 4, "date": 14},
          {"year": 2004, "month": 7, "date": 3},
          {"year": 2004, "month": 9, "date": 23},
          {"year": 2004, "month": 12, "date": 22},
          {"year": 2005, "month": 3, "date": 25},
          {"year": 2005, "month": 6, "date": 18},
          {"year": 2005, "month": 9, "date": 16},
          {"year": 2005, "month": 12, "date": 14},
          {"year": 2006, "month": 3, "date": 23}
        ],
        "labelExpr": "timeFormat(datum.value,'%Y%m')=='200401' ? ['Ene','2004'] : timeFormat(datum.value,'%Y%m')=='200412' ? ['Ene','2005'] : timeFormat(datum.value,'%Y%m')=='200512' ? ['Ene','2006'] : timeFormat(datum.value,'%Y%m')=='200603' ? ['Abr','11'] : (timeFormat(datum.value,'%m')=='04' || timeFormat(datum.value,'%m')=='03') ? 'Mar' : (timeFormat(datum.value,'%m')=='07' || timeFormat(datum.value,'%m')=='06') ? 'Jun' : 'Set'",
        "ticks": false,
        "grid": false,
        "domainColor": "#808080",
        "labelFontSize": 20,
        "labelColor": "black",
        "labelPadding": 20,
        "labelLineHeight": 28,
        "labelBaseline": "top",
        "labelAngle": 0,
        "labelFlush": false,
        "labelOverlap": false,
        "labelBound": false
      }
    }
  },
  "layer": [
    {
      "encoding": {
        "y": {
          "field": "valor",
          "type": "quantitative",
          "scale": {"domain": [100, 125], "nice": false, "zero": false},
          "axis": {
            "orient": "left",
            "values": [100, 105, 110, 115, 120, 125],
            "labelFontSize": 20,
            "labelFontWeight": "bold",
            "labelColor": "black",
            "labelPadding": 13,
            "tickSize": 5,
            "tickColor": "black",
            "domainColor": "black",
            "grid": true,
            "gridColor": "black",
            "gridDash": [8, 6],
            "gridWidth": 1,
            "gridOpacity": {"condition": {"test": "datum.value == 100 || datum.value == 125", "value": 0}, "value": 1},
            "title": "(Yen/US$)",
            "titleAngle": 0,
            "titleAlign": "left",
            "titleBaseline": "alphabetic",
            "titleX": 7,
            "titleY": -4,
            "titleFontSize": 21,
            "titleFontWeight": "normal",
            "titleColor": "black"
          }
        }
      },
      "layer": [
        {
          "transform": [{"filter": "datum.serie == 'yen'"}],
          "mark": {"type": "line", "strokeJoin": "round"},
          "encoding": {
            "color": {
              "field": "serie",
              "type": "nominal",
              "scale": {"domain": ["yen", "eur"], "range": ["#000080", "#FF00FF"]},
              "legend": {
                "orient": "none",
                "legendX": 40,
                "legendY": 40,
                "title": null,
                "labelExpr": "datum.label == 'yen' ? 'Yen / US$' : 'US$ / Euro'",
                "encode": {
                  "symbols": {
                    "update": {
                      "strokeWidth": {"signal": "datum.value == 'yen' ? 4 : 1.8"}
                    }
                  }
                }
              }
            },
            "strokeWidth": {
              "field": "serie",
              "type": "nominal",
              "scale": {"type": "ordinal", "domain": ["yen", "eur"], "range": [4, 1.8]},
              "legend": null
            }
          }
        },
        {
          "data": {"values": [{"fecha": "2006-03-20", "valor": 121.5, "fecha2": "2006-04-08", "valor2": 118.45}]},
          "mark": {"type": "rule", "color": "black", "strokeWidth": 1.5},
          "encoding": {
            "x2": {"field": "fecha2"},
            "y2": {"field": "valor2"}
          }
        },
        {
          "data": {"values": [{"fecha": "2006-04-08", "valor": 118.45}]},
          "mark": {"type": "point", "shape": "M0,0L5,15L-5,15Z", "size": 4, "filled": true, "color": "black", "opacity": 1, "angle": 158, "strokeWidth": 0}
        },
        {
          "data": {"values": [{"fecha": "2006-03-10", "valor": 122.5, "texto": "118"}]},
          "mark": {"type": "text", "font": "Liberation Sans", "fontSize": 14, "color": "black", "align": "center", "baseline": "middle"},
          "encoding": {"text": {"field": "texto"}}
        }
      ]
    },
    {
      "encoding": {
        "y": {
          "field": "valor",
          "type": "quantitative",
          "scale": {"domain": [1.15, 1.4], "nice": false, "zero": false},
          "axis": {
            "orient": "right",
            "values": [1.15, 1.2, 1.25, 1.3, 1.35, 1.4],
            "labelExpr": "replace(format(datum.value, '.2f'), '.', ',')",
            "labelFontSize": 20,
            "labelFontWeight": "bold",
            "labelColor": "black",
            "labelPadding": 9,
            "tickSize": 6,
            "tickColor": "black",
            "domainColor": "black",
            "grid": false,
            "title": "(US$/Euro)",
            "titleAngle": 0,
            "titleAlign": "right",
            "titleBaseline": "alphabetic",
            "titleX": 2,
            "titleY": -4,
            "titleFontSize": 21,
            "titleFontWeight": "normal",
            "titleColor": "black"
          }
        }
      },
      "layer": [
        {
          "transform": [{"filter": "datum.serie == 'eur'"}],
          "mark": {"type": "line", "strokeJoin": "round"},
          "encoding": {
            "color": {"field": "serie", "type": "nominal"},
            "strokeWidth": {"field": "serie", "type": "nominal", "legend": null}
          }
        },
        {
          "data": {"values": [{"fecha": "2006-03-18", "valor": 1.177, "fecha2": "2006-04-11", "valor2": 1.2034}]},
          "mark": {"type": "rule", "color": "black", "strokeWidth": 1.5},
          "encoding": {
            "x2": {"field": "fecha2"},
            "y2": {"field": "valor2"}
          }
        },
        {
          "data": {"values": [{"fecha": "2006-04-11", "valor": 1.2034}]},
          "mark": {"type": "point", "shape": "M0,0L5,15L-5,15Z", "size": 4, "filled": true, "color": "black", "opacity": 1, "angle": 29, "strokeWidth": 0}
        },
        {
          "data": {"values": [{"fecha": "2006-03-06", "valor": 1.1666, "texto": "1,21"}]},
          "mark": {"type": "text", "font": "Liberation Sans", "fontSize": 14, "color": "black", "align": "center", "baseline": "middle"},
          "encoding": {"text": {"field": "texto"}}
        }
      ]
    }
  ],
  "resolve": {"scale": {"y": "independent"}}
}
